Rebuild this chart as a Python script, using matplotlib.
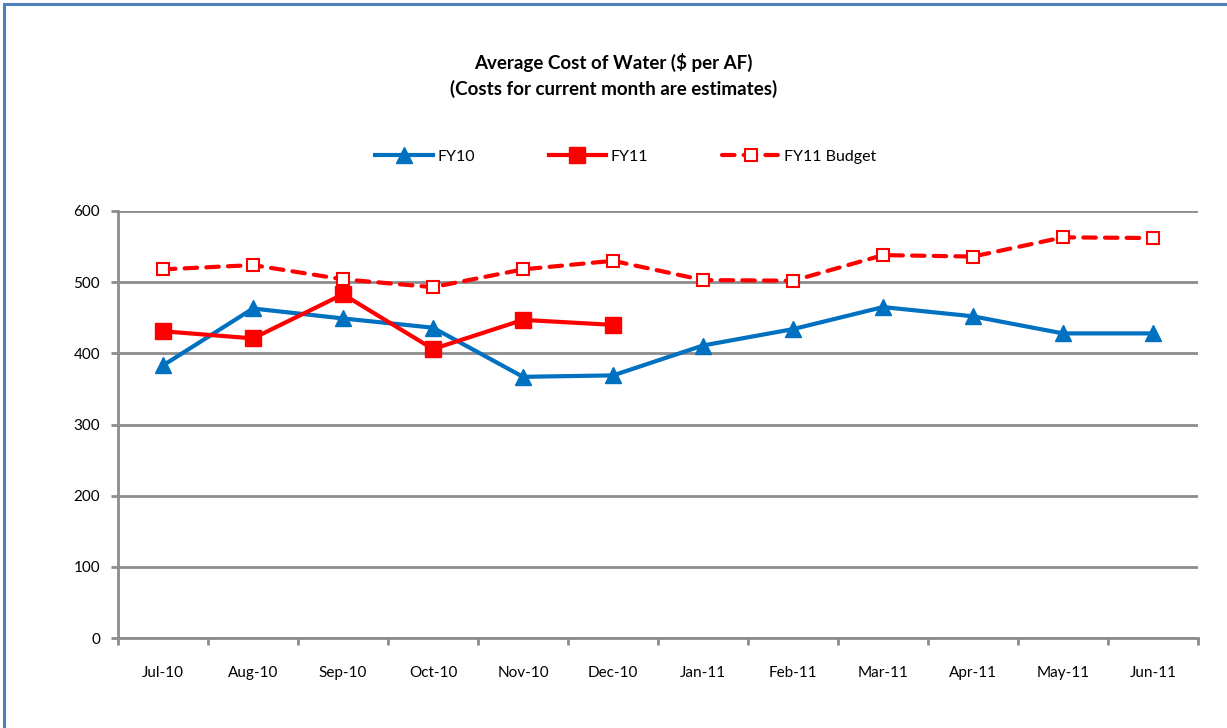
import matplotlib
matplotlib.use("Agg")
import matplotlib.pyplot as plt
from matplotlib.lines import Line2D

plt.rcParams["font.family"] = ["Lato", "DejaVu Sans"]

months = ["Jul-10", "Aug-10", "Sep-10", "Oct-10", "Nov-10", "Dec-10",
          "Jan-11", "Feb-11", "Mar-11", "Apr-11", "May-11", "Jun-11"]
fy10 = [383, 463, 449, 436, 367, 369, 411, 434, 465, 452, 428, 428]
fy11 = [431, 421, 483, 406, 447, 440]
fy11_budget = [518, 524, 504, 493, 518, 530, 503, 502, 538, 536, 563, 562]

BLUE = "#0070c0"
RED = "#ff0000"
GRID = "#8c8c8c"

fig = plt.figure(figsize=(12.27, 7.28), dpi=100)
ax = fig.add_axes([118 / 1227, 1 - 638 / 728, (1198 - 118) / 1227, (638 - 211) / 728])

x = list(range(len(months)))
ax.plot(x, fy10, color=BLUE, lw=3, marker="^", ms=11, mfc=BLUE, mec=BLUE,
        label="FY10", zorder=4)
ax.plot(x[:len(fy11)], fy11, color=RED, lw=3, marker="s", ms=11, mfc=RED, mec=RED,
        label="FY11", zorder=5)
ax.plot(x, fy11_budget, color=RED, lw=3, ls=(0, (3, 2.2)), dash_capstyle="round",
        marker="s", ms=9, mfc="white", mec=RED, mew=1.5,
        label="FY11 Budget", zorder=3)

ax.set_xlim(-0.5, len(months) - 0.5)
ax.set_ylim(0, 600)
ax.set_yticks(range(0, 601, 100))
ax.set_xticks(x)
ax.set_xticklabels(months, fontsize=11)
ax.set_xticks([i - 0.5 for i in range(len(months) + 1)], minor=True)
ax.tick_params(axis="x", which="major", length=0, pad=20)
ax.tick_params(axis="x", which="minor", length=5, width=2, color=GRID, direction="out")
ax.tick_params(axis="y", length=5, width=2, color=GRID, labelsize=11, pad=8)

ax.yaxis.grid(True, color=GRID, lw=2)
ax.set_axisbelow(True)
for side in ("top", "right"):
    ax.spines[side].set_visible(False)
for side in ("left", "bottom"):
    ax.spines[side].set_color(GRID)
    ax.spines[side].set_linewidth(2)

fig.text(0.5, 1 - 62 / 728, "Average Cost of Water ($ per AF)", ha="center", va="center",
         fontsize=13.5, fontweight="bold")
fig.text(0.5, 1 - 89 / 728, "(Costs for current month are estimates)", ha="center",
         va="center", fontsize=13.5, fontweight="bold")

fig.legend(loc="center", bbox_to_anchor=(0.51, 1 - 157 / 728), ncol=3, frameon=False,
           fontsize=11.5, handlelength=3.6, columnspacing=4.6, handletextpad=0.3)

# blue frame along left and top edges
fig.add_artist(Line2D([4 / 1227, 4 / 1227], [0, 1 - 4 / 728], color="#4f81bd", lw=2.2,
                      transform=fig.transFigure))
fig.add_artist(Line2D([4 / 1227, 1], [1 - 4 / 728, 1 - 4 / 728], color="#4f81bd", lw=2.2,
                      transform=fig.transFigure))

fig.savefig("out.png", dpi=100)
